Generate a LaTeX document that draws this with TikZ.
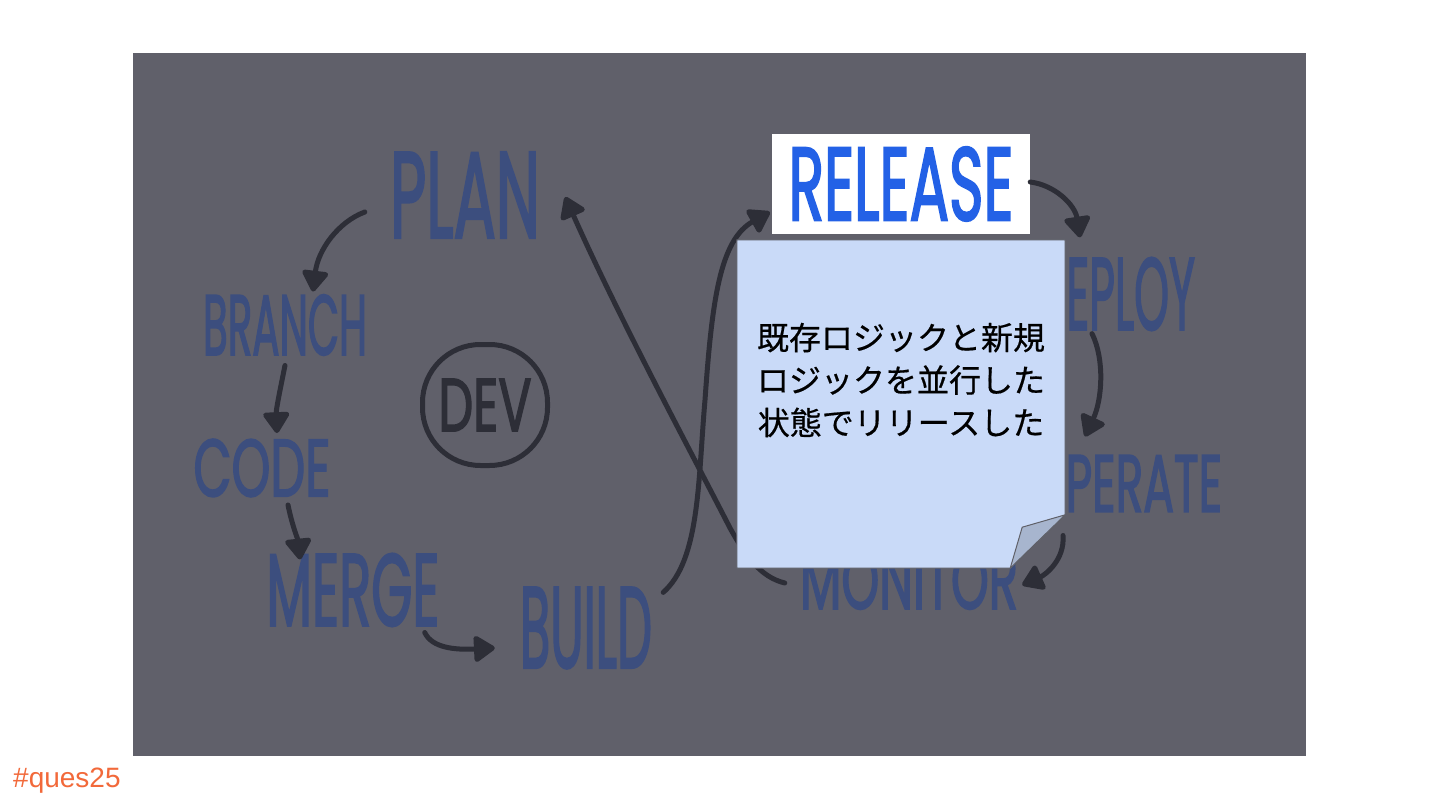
\documentclass[tikz,border=0pt]{standalone}
\usepackage{fontspec}
\usepackage{graphicx}
\usetikzlibrary{arrows.meta}
\setmainfont{Liberation Sans}
\newfontfamily\cjk[FakeBold=0.5]{Noto Sans CJK JP}
\newfontfamily\hwfont[FakeBold=2.5]{Poppins}
\definecolor{bggray}{HTML}{60606A}
\definecolor{labelblue}{HTML}{3C4E7E}
\definecolor{arrowdark}{HTML}{2D2E37}
\definecolor{relblue}{HTML}{2361E6}
\definecolor{notefill}{HTML}{C9DAF8}
\definecolor{foldfill}{HTML}{A7B5CE}
\definecolor{noteedge}{HTML}{5F6068}
\definecolor{quesorange}{HTML}{F2693A}
\newcommand\hw[3]{\resizebox{#1pt}{#2pt}{\hwfont #3}}
\tikzset{
  hwlabel/.style={inner sep=0pt, text=labelblue},
  arr/.style={draw=arrowdark, line width=5pt, line cap=round,
    -{Triangle[length=23pt,width=29pt,round]}},
  devbox/.style={draw=arrowdark, line width=5pt, rounded corners=58pt,
    minimum width=125pt, minimum height=121pt, text=arrowdark, inner sep=0pt},
  relbox/.style={fill=white, minimum width=258pt, minimum height=100pt, inner sep=0pt, text=relblue},
  notebox/.style={minimum width=328pt, minimum height=328pt, inner sep=0pt},
  notetext/.style={align=center, font=\cjk\fontsize{32}{42.5}\selectfont, text=black, inner sep=0pt},
  tag/.style={text=quesorange, font=\fontsize{28}{30}\selectfont, inner sep=0pt}
}
\begin{document}
\begin{tikzpicture}[x=1pt,y=-1pt]
\useasboundingbox (0,0) rectangle (1440,810);
\fill[white] (0,0) rectangle (1440,810);
\fill[bggray] (133,53) rectangle (1306,756);

% labels
\node[hwlabel] (plan) at (465,195) {\hw{150}{85}{PLAN}};
\node[hwlabel] (branch) at (285,325) {\hw{164}{60}{BRANCH}};
\node[hwlabel] (code) at (262,468) {\hw{137}{57}{CODE}};
\node[hwlabel] (merge) at (353,590) {\hw{173}{72}{MERGE}};
\node[hwlabel] (build) at (586,628) {\hw{132}{80}{BUILD}};
\node[hwlabel] (deploy) at (1115,294) {\hw{160}{72}{DEPLOY}};
\node[hwlabel] (operate) at (1126,483.5) {\hw{192}{57}{OPERATE}};
\node[hwlabel] (monitor) at (909,580) {\hw{218}{58}{MONITOR}};
\node[devbox] (dev) at (485,405) {\hw{93}{52}{DEV}};
\node[relbox] (release) at (901,184) {\hw{225}{73}{RELEASE}};

% connectors
\draw[arr] ([shift={(-25,17)}]plan.west) .. controls (338,222) and (318,250) .. ([shift={(28,-3)}]branch.north);
\draw[arr] ([shift={(0,10)}]branch.south) .. controls (280,390) and (276,410) .. ([shift={(15,-6)}]code.north);
\draw[arr] ([shift={(26,8)}]code.south) .. controls (292,525) and (298,540) .. ([shift={(-53,6)}]merge.north);
\draw[arr] ([shift={(-15,6)}]merge.south east) .. controls (432,648) and (455,650) .. ([shift={(-25,20)}]build.west);
\draw[arr] ([shift={(11,5)}]build.north east) .. controls (700,560) and (698,480) .. (705,400)
   .. controls (712,300) and (720,240) .. ([shift={(-2,28)}]release.west);
\draw[arr] ([shift={(-15,3)}]monitor.west) .. controls (760,577) and (745,555) .. (730,528)
   .. controls (690,450) and (620,320) .. ([shift={(25,2)}]plan.east);
\draw[arr] ([shift={(0,-2)}]release.east) .. controls (1055,185) and (1075,205) .. ([shift={(-35,-20)}]deploy.north);
\draw[arr] ([shift={(-23,3)}]deploy.south) .. controls (1105,360) and (1102,400) .. ([shift={(-41,-18)}]operate.north);
\draw[arr] ([shift={(-63,23)}]operate.south) .. controls (1065,560) and (1045,575) .. ([shift={(4,5)}]monitor.east);

% sticky note
\node[notebox] (note) at (901,404) {};
\filldraw[fill=notefill, draw=noteedge, line width=1pt]
  (note.north west) -- (note.north east) -- ([shift={(0,275)}]note.north east)
  -- ([shift={(-55,0)}]note.south east) -- (note.south west) -- cycle;
\filldraw[fill=foldfill, draw=noteedge, line width=1pt]
  ([shift={(0,275)}]note.north east) -- ([shift={(-43,-41)}]note.south east)
  -- ([shift={(-55,0)}]note.south east) -- cycle;
\node[notetext] (msg) at ([shift={(0,-24)}]note.center) {既存ロジックと新規\\ロジックを並行した\\状態でリリースした};

\node[tag, anchor=base west] (ques) at (13,787) {\#ques25};
\end{tikzpicture}
\end{document}
